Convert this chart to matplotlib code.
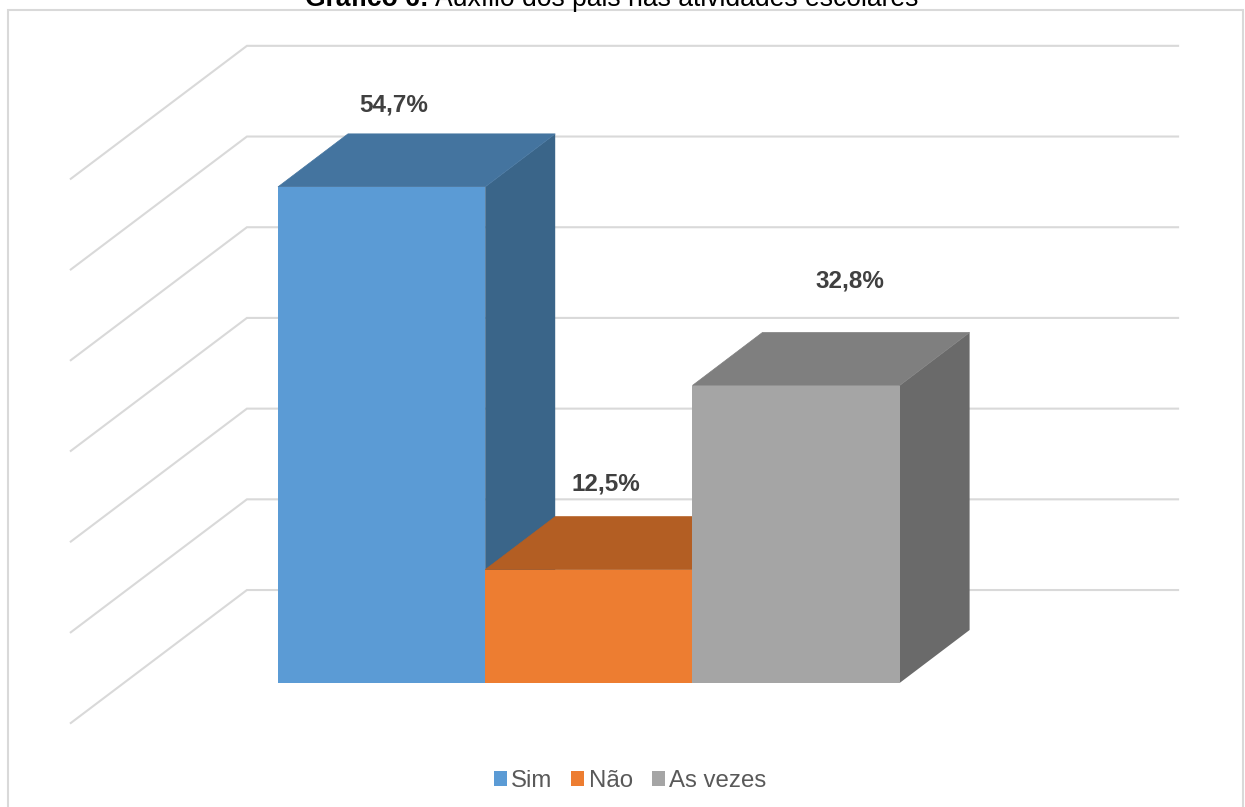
import matplotlib
matplotlib.use('Agg')
import matplotlib.pyplot as plt
from matplotlib.patches import Patch, Polygon, Rectangle

plt.rcParams['font.family'] = ['Liberation Sans', 'DejaVu Sans']

# Chart data
categories = ['Sim', 'Não', 'As vezes']
values = [54.7, 12.5, 32.8]
value_labels = ['54,7%', '12,5%', '32,8%']
grid_values = [0, 10, 20, 30, 40, 50, 60]

title_bold = 'Gráfico 6:'
title_rest = 'Auxílio dos pais nas atividades escolares'

# Face colors of each bar: front, top, side
front_colors = ['#5B9BD5', '#ED7D31', '#A5A5A5']
top_colors = ['#44749F', '#B35E23', '#7F7F7F']
side_colors = ['#3A6589', '#9C5120', '#6A6A6A']

grid_color = '#D9D9D9'
label_color = '#404040'
legend_color = '#595959'

# Scale of the drawing: one bar is one x unit wide, y is in percent
fig_w, fig_h = 1245, 807
x_zero, y_zero = 278, 683
px_per_x, px_per_y = 207.2, 9.07

# Oblique offset from the front of a bar to its back
depth_x, depth_y = 70 / px_per_x, 53 / px_per_y

# Wall gridlines: front end, back corner and right end
wall_front_x, wall_front_y = -1.0, -4.41
wall_back_x, wall_back_y = -0.150, 10.25
wall_right_x = 4.344

# Label offsets from the center of the bar front top, in points
label_dx = [8.5, 12.5, 39]
label_dy = [59.3, 61.3, 75.3]

fig = plt.figure(figsize=(fig_w / 100, fig_h / 100), dpi=100)
ax = fig.add_axes([0, 0, 1, 1])
ax.set_xlim(-x_zero / px_per_x, (fig_w - x_zero) / px_per_x)
ax.set_ylim((y_zero - fig_h) / px_per_y, y_zero / px_per_y)
ax.axis('off')

# Outer chart frame
fig.add_artist(Rectangle((8 / fig_w, -0.01), 1235 / fig_w, 1.01 - 10 / fig_h,
                         transform=fig.transFigure, fill=False,
                         edgecolor=grid_color, linewidth=1.5))

# Gridlines on the back wall and the side wall
for g in grid_values:
    ax.plot([wall_front_x, wall_back_x, wall_right_x],
            [wall_front_y + g, wall_back_y + g, wall_back_y + g],
            color=grid_color, linewidth=1.5, solid_joinstyle='miter', zorder=1)

# 3D bars, left to right so each one covers the side of the previous
for i, v in enumerate(values):
    z = 2 + i
    ax.add_patch(Polygon([(i + 1, 0), (i + 1 + depth_x, depth_y),
                          (i + 1 + depth_x, v + depth_y), (i + 1, v)],
                         facecolor=side_colors[i], edgecolor='none', zorder=z))
    ax.add_patch(Polygon([(i, v), (i + depth_x, v + depth_y),
                          (i + 1 + depth_x, v + depth_y), (i + 1, v)],
                         facecolor=top_colors[i], edgecolor=top_colors[i],
                         linewidth=0.5, zorder=z))
    ax.bar(i + 0.5, v, width=1, color=front_colors[i], antialiased=False, zorder=z)
    ax.annotate(value_labels[i], xy=(i + 0.5, v),
                xytext=(label_dx[i], label_dy[i]), textcoords='offset points',
                ha='center', va='center', fontsize=17.5, fontweight='bold',
                color=label_color, zorder=10)

# Title, partly cut by the top edge of the page
title_y = 1 - 6 / fig_h
t1 = fig.text(305 / fig_w, title_y, title_bold, fontsize=19.1,
              fontweight='bold', color='black', ha='left', va='baseline')
fig.canvas.draw()
bold_end = t1.get_window_extent().x1
fig.text((bold_end + 6) / fig_w, title_y, title_rest, fontsize=19.1,
         color='black', ha='left', va='baseline')

# Legend
handles = [Patch(facecolor=c, edgecolor='none') for c in front_colors]
fig.legend(handles, categories, loc='center', ncol=3,
           bbox_to_anchor=(630 / fig_w, 1 - 781 / fig_h), frameon=False,
           fontsize=17.3, labelcolor=legend_color, handlelength=0.54,
           handleheight=0.54, handletextpad=0.17, columnspacing=0.81,
           borderpad=0, borderaxespad=0)

plt.savefig('out.png', dpi=100)
